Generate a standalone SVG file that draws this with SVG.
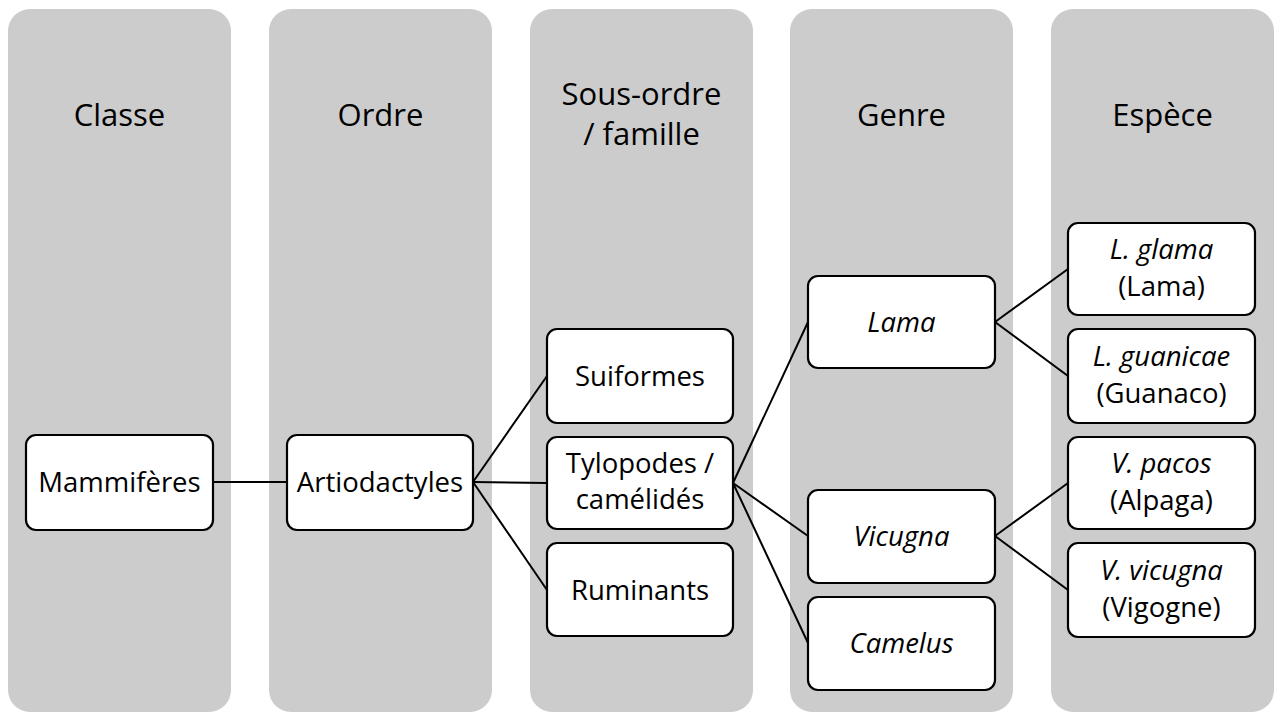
<svg xmlns="http://www.w3.org/2000/svg" width="1276" height="713" viewBox="0 0 1276 713">
<style>
.col{fill:#cccccc;}
.hd{font-family:"Open Sans","Liberation Sans",sans-serif;font-size:31px;fill:#000;text-anchor:middle;}
.nd rect{fill:#fff;stroke:#000;stroke-width:2.2;}
.nd text{font-family:"Open Sans","Liberation Sans",sans-serif;font-size:27.5px;fill:#000;text-anchor:middle;}
.it{font-style:italic;}
.cn line{stroke:#000;stroke-width:2;}
</style>
<rect width="1276" height="713" fill="#fff"/>
<g id="columns">
<rect class="col" x="8" y="9" width="223" height="703" rx="22"/>
<rect class="col" x="269" y="9" width="223" height="703" rx="22"/>
<rect class="col" x="530" y="9" width="223" height="703" rx="22"/>
<rect class="col" x="790" y="9" width="223" height="703" rx="22"/>
<rect class="col" x="1051" y="9" width="223" height="703" rx="22"/>
<text class="hd" x="119.5" y="126">Classe</text>
<text class="hd" x="380.5" y="126">Ordre</text>
<text class="hd" x="641.5" y="105">Sous-ordre</text>
<text class="hd" x="641.5" y="145">/ famille</text>
<text class="hd" x="901.5" y="126">Genre</text>
<text class="hd" x="1162.5" y="126">Espèce</text>
</g>
<g id="connectors" class="cn">
<line x1="213" y1="482" x2="287" y2="482"/>
<line x1="473" y1="482" x2="547" y2="376"/>
<line x1="473" y1="482" x2="547" y2="483"/>
<line x1="473" y1="482" x2="547" y2="590"/>
<line x1="733" y1="483" x2="808" y2="322"/>
<line x1="733" y1="483" x2="808" y2="536"/>
<line x1="733" y1="483" x2="808" y2="643"/>
<line x1="995" y1="322" x2="1068" y2="269"/>
<line x1="995" y1="322" x2="1068" y2="376"/>
<line x1="995" y1="536" x2="1068" y2="483"/>
<line x1="995" y1="536" x2="1068" y2="590"/>
</g>
<g id="n-mammiferes" class="nd"><rect x="26" y="435" width="187" height="95" rx="10"/><text x="119.5" y="492">Mammifères</text></g>
<g id="n-artiodactyles" class="nd"><rect x="287" y="435" width="186" height="95" rx="10"/><text x="380" y="492">Artiodactyles</text></g>
<g id="n-suiformes" class="nd"><rect x="547" y="329" width="186" height="94" rx="10"/><text x="640" y="386">Suiformes</text></g>
<g id="n-tylopodes" class="nd"><rect x="547" y="437" width="186" height="92" rx="10"/><text x="640" y="473">Tylopodes /</text><text x="640" y="509">camélidés</text></g>
<g id="n-ruminants" class="nd"><rect x="547" y="543" width="186" height="93" rx="10"/><text x="640" y="600">Ruminants</text></g>
<g id="n-lama" class="nd"><rect x="808" y="276" width="187" height="92" rx="10"/><text class="it" x="901.5" y="332">Lama</text></g>
<g id="n-vicugna" class="nd"><rect x="808" y="490" width="187" height="93" rx="10"/><text class="it" x="901.5" y="546">Vicugna</text></g>
<g id="n-camelus" class="nd"><rect x="808" y="597" width="187" height="93" rx="10"/><text class="it" x="901.5" y="653">Camelus</text></g>
<g id="n-lglama" class="nd"><rect x="1068" y="223" width="187" height="92" rx="10"/><text class="it" x="1161.5" y="259">L. glama</text><text x="1161.5" y="296">(Lama)</text></g>
<g id="n-lguanicae" class="nd"><rect x="1068" y="329" width="187" height="94" rx="10"/><text class="it" x="1161.5" y="366">L. guanicae</text><text x="1161.5" y="403">(Guanaco)</text></g>
<g id="n-vpacos" class="nd"><rect x="1068" y="437" width="187" height="92" rx="10"/><text class="it" x="1161.5" y="473">V. pacos</text><text x="1161.5" y="510">(Alpaga)</text></g>
<g id="n-vvicugna" class="nd"><rect x="1068" y="543" width="187" height="94" rx="10"/><text class="it" x="1161.5" y="580">V. vicugna</text><text x="1161.5" y="617">(Vigogne)</text></g>
</svg>
